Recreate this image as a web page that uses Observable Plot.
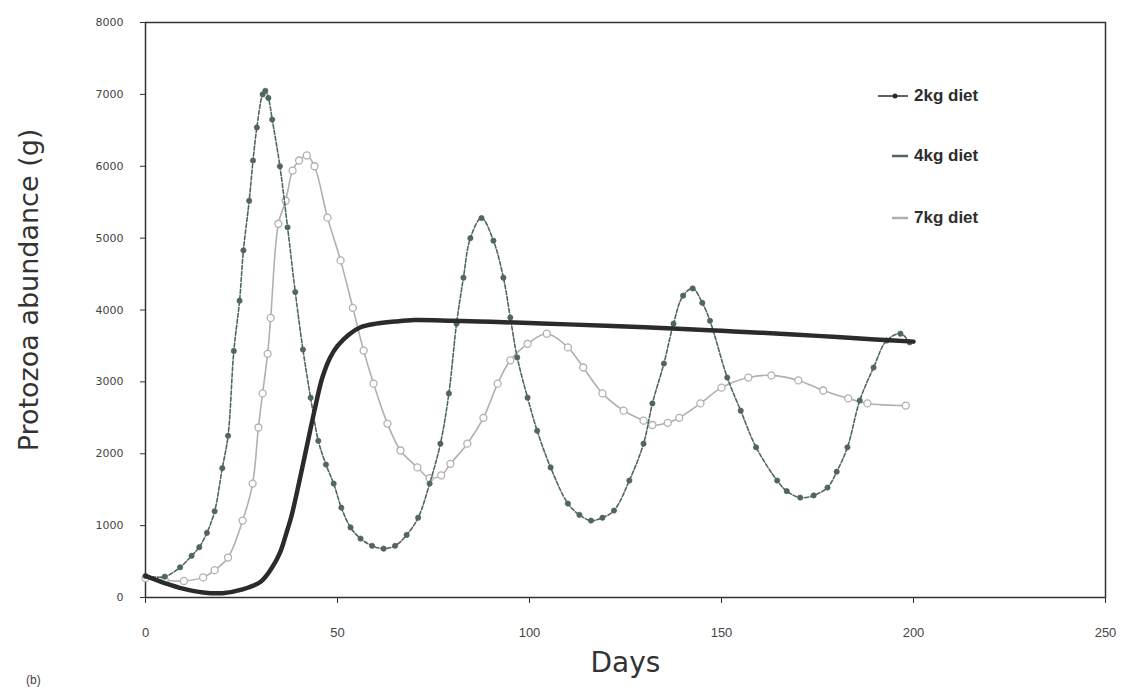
<!DOCTYPE html>
<html>
<head>
<meta charset="utf-8">
<script src="https://cdn.jsdelivr.net/npm/d3@7"></script>
<script src="https://cdn.jsdelivr.net/npm/@observablehq/plot@0.6"></script>
<style>
  html, body { margin: 0; padding: 0; background: #fff; }
  #wrap { position: relative; width: 1130px; height: 688px; }
  #legend { position: absolute; left: 878px; top: 86px; font-family: "Liberation Sans", Arial, sans-serif; font-weight: bold; font-size: 17px; color: #2e2e2e; }
  #legend .row { position: absolute; white-space: nowrap; display: flex; align-items: center; }
  #legend svg { margin-right: 4px; }
  #tag { position: absolute; left: 26px; top: 673px; font-family: "Liberation Sans", Arial, sans-serif; font-size: 12px; color: #444; }
</style>
</head>
<body>
<div id="wrap">
  <div id="chart"></div>
  <div id="legend"></div>
  <div id="tag">(b)</div>
</div>
<script>
// ---- data ----
const seriesNames = ["2kg diet", "4kg diet", "7kg diet"];

const days2kg = [0, 5, 10, 15, 20, 25, 30, 33, 35, 37, 38, 40, 42, 44, 46, 48, 50, 53, 56, 60, 65, 70, 80, 90, 100, 110, 125, 140, 150, 160, 175, 190, 200];
const vals2kg = [300, 200, 120, 70, 60, 110, 220, 420, 620, 950, 1130, 1600, 2100, 2600, 3050, 3330, 3500, 3660, 3760, 3810, 3840, 3860, 3850, 3835, 3820, 3800, 3770, 3735, 3710, 3685, 3640, 3590, 3560];

const days4kg = [0, 5, 9, 12, 14, 16, 18, 20, 21.5, 23, 24.5, 25.5, 27, 28, 29, 30.5, 31.2, 32, 33, 35, 37, 39, 41, 43, 45, 47, 49, 51, 53.4, 56, 59, 62, 65, 68, 71, 74, 76.8, 79, 81, 82.8, 84.6, 87.5, 90.6, 93.2, 95, 96.8, 99.5, 102, 105.5, 110, 113, 116, 119, 122, 126, 129.7, 132, 135, 137.5, 140, 142.5, 145, 147, 151.5, 155, 159, 164.5, 167, 170.5, 174, 177.6, 180, 182.8, 186, 189.6, 193, 196.6, 199];
const vals4kg = [300, 290, 420, 580, 700, 900, 1200, 1800, 2250, 3430, 4130, 4830, 5520, 6080, 6540, 7000, 7050, 6950, 6650, 6000, 5150, 4250, 3450, 2780, 2180, 1850, 1585, 1250, 975, 820, 720, 680, 720, 870, 1110, 1585, 2140, 2840, 3810, 4450, 5000, 5280, 4965, 4450, 3895, 3340, 2780, 2320, 1810, 1307, 1150, 1070, 1110, 1210, 1627, 2140, 2700, 3255, 3810, 4200, 4300, 4100, 3850, 3060, 2600, 2090, 1627, 1480, 1390, 1420, 1530, 1750, 2090, 2740, 3200, 3575, 3670, 3550];

const days7kg = [0, 5, 10, 15, 18, 21.5, 25.3, 27.9, 29.4, 30.5, 31.8, 32.6, 34.6, 36.5, 38.3, 40, 42, 44, 47.4, 50.8, 54, 56.8, 59.4, 63, 66.4, 70.8, 74, 77, 79.4, 83.8, 88, 91.7, 95, 99.5, 104.5, 110, 114, 119, 124.5, 129.7, 132, 136, 139, 144.5, 150, 157, 163, 170, 176.5, 183, 188, 198];
const vals7kg = [270, 240, 230, 280, 380, 556, 1070, 1585, 2365, 2840, 3390, 3890, 5200, 5520, 5940, 6080, 6150, 6000, 5285, 4690, 4030, 3435, 2975, 2420, 2045, 1810, 1660, 1700, 1860, 2140, 2500, 2975, 3300, 3530, 3670, 3480, 3200, 2840, 2600, 2460, 2400, 2430, 2500, 2700, 2920, 3060, 3090, 3020, 2880, 2770, 2700, 2670];

const xTicks = [0, 50, 100, 150, 200, 250];
const yTicks = [0, 1000, 2000, 3000, 4000, 5000, 6000, 7000, 8000];
const xLabel = "Days";
const yLabel = "Protozoa abundance (g)";

// ---- build table ----
const toRows = (days, vals, name) => days.map((d, i) => ({day: d, value: vals[i], series: name}));
const s2 = toRows(days2kg, vals2kg, seriesNames[0]);
const s4 = toRows(days4kg, vals4kg, seriesNames[1]);
const s7 = toRows(days7kg, vals7kg, seriesNames[2]);

const col2 = "#2b2b2b", col4 = "#4f6662", col7 = "#b0b0b0";

const chart = Plot.plot({
  width: 1130,
  height: 688,
  marginLeft: 145,
  marginRight: 25,
  marginTop: 22,
  marginBottom: 91,
  style: {background: "#fff", fontFamily: "DejaVu Sans, sans-serif", color: "#333"},
  x: {domain: [0, 250]},
  y: {domain: [0, 8000]},
  marks: [
    Plot.frame({stroke: "#333", strokeWidth: 1.5}),
    Plot.axisX({ticks: xTicks, tickSize: 6, tickPadding: 24, tickFormat: d3.format("d"), label: null, fontSize: 13, fontFamily: "Liberation Sans Narrow, Liberation Sans, sans-serif", stroke: "#333", fill: "#444"}),
    Plot.axisY({ticks: yTicks, tickSize: 5, tickPadding: 17, tickFormat: d3.format("d"), label: null, fontSize: 11, fill: "#444", stroke: "#333"}),
    Plot.text([xLabel], {frameAnchor: "bottom", dy: 74, fontSize: 28, fill: "#333", fontFamily: "DejaVu Sans, sans-serif"}),
    Plot.text([yLabel], {frameAnchor: "left", textAnchor: "middle", dx: -116, dy: -20, rotate: -90, fontSize: 27, fill: "#333", fontFamily: "DejaVu Sans, sans-serif"}),
    // 7kg diet: light gray with open circles
    Plot.line(s7, {x: "day", y: "value", curve: "catmull-rom", stroke: col7, strokeWidth: 1.6}),
    Plot.dot(s7, {x: "day", y: "value", r: 3.5, stroke: col7, strokeWidth: 1.3, fill: "#fff"}),
    // 4kg diet: teal-gray dashed with filled markers
    Plot.line(s4, {x: "day", y: "value", curve: "catmull-rom", stroke: col4, strokeWidth: 1.6, strokeDasharray: "4,2"}),
    Plot.dot(s4, {x: "day", y: "value", r: 2.6, fill: col4, stroke: col4, strokeWidth: 0.8}),
    // 2kg diet: thick black line
    Plot.line(s2, {x: "day", y: "value", curve: "catmull-rom", stroke: col2, strokeWidth: 4.5})
  ]
});
document.getElementById("chart").appendChild(chart);

// ---- legend ----
const legend = document.getElementById("legend");
const legendColors = [col2, col4, col7];
const legendTops = [0, 60, 122];
seriesNames.forEach((name, i) => {
  const row = document.createElement("div");
  row.className = "row";
  row.style.top = legendTops[i] + "px";
  const marker = i === 0
    ? `<line x1="0" y1="7" x2="30" y2="7" stroke="${legendColors[i]}" stroke-width="1.5"/><circle cx="17" cy="7" r="2.5" fill="${legendColors[i]}"/>`
    : `<line x1="14" y1="7" x2="30" y2="7" stroke="${legendColors[i]}" stroke-width="2.5"/>`;
  row.innerHTML = `<svg width="32" height="14">${marker}</svg><span>${name}</span>`;
  legend.appendChild(row);
});
</script>
</body>
</html>
